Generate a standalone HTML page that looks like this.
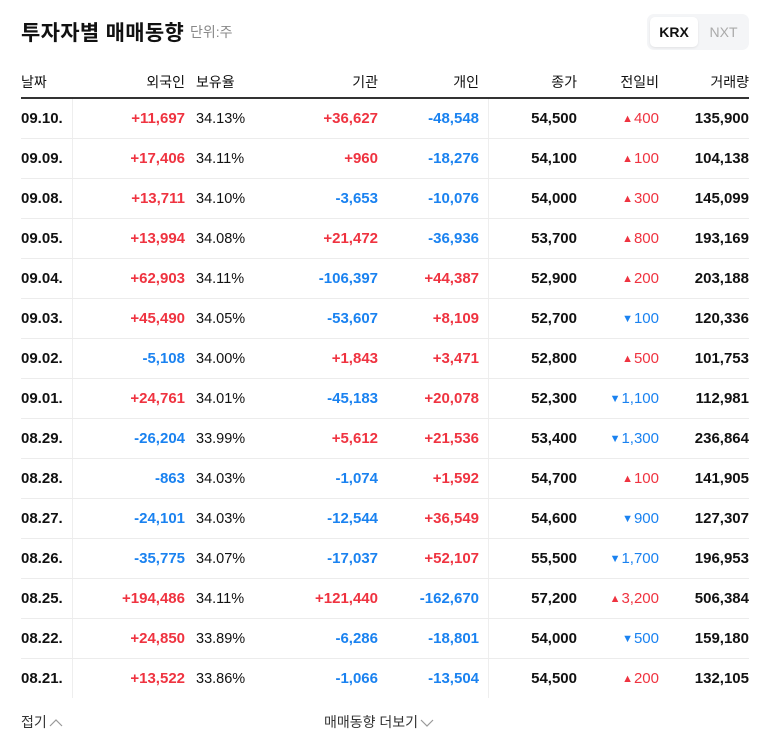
<!DOCTYPE html>
<html><head><meta charset="utf-8"><style>
*{margin:0;padding:0;box-sizing:border-box}
body{width:768px;height:749px;background:#fff;font-family:"Liberation Sans","Noto Sans CJK KR",sans-serif;color:#111;position:relative;overflow:hidden}
h1{position:absolute;left:21px;top:17px;font-size:21px;font-weight:bold;letter-spacing:0.3px}
.unit{position:absolute;left:190px;top:22px;font-size:14px;color:#888}
.tog{position:absolute;left:647px;top:14px;width:102px;height:36px;background:#f4f5f7;border-radius:7px}
.tog .k{position:absolute;left:3px;top:3px;width:48px;height:30px;background:#fff;border-radius:5px;box-shadow:0 1px 2px rgba(0,0,0,.08);font-size:14px;font-weight:bold;text-align:center;line-height:30px}
.tog .n{position:absolute;left:54px;top:3px;width:45px;height:30px;font-size:14px;color:#aaa;text-align:center;line-height:30px}
.hd{position:absolute;top:72px;font-size:14px;color:#111}
.thick{position:absolute;left:21px;top:97px;width:728px;height:2px;background:#333}
.vl{position:absolute;top:99px;width:1px;height:599px;background:#eee}
.row{position:absolute;left:21px;width:728px;height:40px;border-bottom:1px solid #ececec}
.row span{position:absolute;top:11px;font-size:15px;font-weight:bold;white-space:nowrap}
.row .d{left:0}
.row .p{left:175px;font-weight:normal;font-size:14.5px;top:12px;line-height:17px}
.r{color:#ef3340}.b{color:#1a82f0}
.row .c{font-weight:normal}
.row .tri{position:relative;top:-1px;font-size:11px;margin-right:1px;font-weight:normal}
.ft{position:absolute;top:712px;font-size:14px;color:#333}
.ft svg{vertical-align:middle;margin-left:2px}
</style></head><body>
<h1>투자자별 매매동향</h1><div class="unit">단위:주</div>
<div class="tog"><div class="k">KRX</div><div class="n">NXT</div></div>
<div class="hd" style="left:21px">날짜</div>
<div class="hd" style="right:583px">외국인</div>
<div class="hd" style="left:196px">보유율</div>
<div class="hd" style="right:390px">기관</div>
<div class="hd" style="right:289px">개인</div>
<div class="hd" style="right:191px">종가</div>
<div class="hd" style="right:109px">전일비</div>
<div class="hd" style="right:19px">거래량</div>
<div class="thick"></div>
<div class="vl" style="left:72px"></div>
<div class="vl" style="left:488px"></div>

<div class="row" style="top:99px"><span class="d">09.10.</span><span class="r" style="right:564px">+11,697</span><span class="p">34.13%</span><span class="r" style="right:371px">+36,627</span><span class="b" style="right:270px">-48,548</span><span style="right:172px">54,500</span><span class="c r" style="right:90px"><span class="tri">▲</span>400</span><span style="right:0">135,900</span></div>
<div class="row" style="top:139px"><span class="d">09.09.</span><span class="r" style="right:564px">+17,406</span><span class="p">34.11%</span><span class="r" style="right:371px">+960</span><span class="b" style="right:270px">-18,276</span><span style="right:172px">54,100</span><span class="c r" style="right:90px"><span class="tri">▲</span>100</span><span style="right:0">104,138</span></div>
<div class="row" style="top:179px"><span class="d">09.08.</span><span class="r" style="right:564px">+13,711</span><span class="p">34.10%</span><span class="b" style="right:371px">-3,653</span><span class="b" style="right:270px">-10,076</span><span style="right:172px">54,000</span><span class="c r" style="right:90px"><span class="tri">▲</span>300</span><span style="right:0">145,099</span></div>
<div class="row" style="top:219px"><span class="d">09.05.</span><span class="r" style="right:564px">+13,994</span><span class="p">34.08%</span><span class="r" style="right:371px">+21,472</span><span class="b" style="right:270px">-36,936</span><span style="right:172px">53,700</span><span class="c r" style="right:90px"><span class="tri">▲</span>800</span><span style="right:0">193,169</span></div>
<div class="row" style="top:259px"><span class="d">09.04.</span><span class="r" style="right:564px">+62,903</span><span class="p">34.11%</span><span class="b" style="right:371px">-106,397</span><span class="r" style="right:270px">+44,387</span><span style="right:172px">52,900</span><span class="c r" style="right:90px"><span class="tri">▲</span>200</span><span style="right:0">203,188</span></div>
<div class="row" style="top:299px"><span class="d">09.03.</span><span class="r" style="right:564px">+45,490</span><span class="p">34.05%</span><span class="b" style="right:371px">-53,607</span><span class="r" style="right:270px">+8,109</span><span style="right:172px">52,700</span><span class="c b" style="right:90px"><span class="tri">▼</span>100</span><span style="right:0">120,336</span></div>
<div class="row" style="top:339px"><span class="d">09.02.</span><span class="b" style="right:564px">-5,108</span><span class="p">34.00%</span><span class="r" style="right:371px">+1,843</span><span class="r" style="right:270px">+3,471</span><span style="right:172px">52,800</span><span class="c r" style="right:90px"><span class="tri">▲</span>500</span><span style="right:0">101,753</span></div>
<div class="row" style="top:379px"><span class="d">09.01.</span><span class="r" style="right:564px">+24,761</span><span class="p">34.01%</span><span class="b" style="right:371px">-45,183</span><span class="r" style="right:270px">+20,078</span><span style="right:172px">52,300</span><span class="c b" style="right:90px"><span class="tri">▼</span>1,100</span><span style="right:0">112,981</span></div>
<div class="row" style="top:419px"><span class="d">08.29.</span><span class="b" style="right:564px">-26,204</span><span class="p">33.99%</span><span class="r" style="right:371px">+5,612</span><span class="r" style="right:270px">+21,536</span><span style="right:172px">53,400</span><span class="c b" style="right:90px"><span class="tri">▼</span>1,300</span><span style="right:0">236,864</span></div>
<div class="row" style="top:459px"><span class="d">08.28.</span><span class="b" style="right:564px">-863</span><span class="p">34.03%</span><span class="b" style="right:371px">-1,074</span><span class="r" style="right:270px">+1,592</span><span style="right:172px">54,700</span><span class="c r" style="right:90px"><span class="tri">▲</span>100</span><span style="right:0">141,905</span></div>
<div class="row" style="top:499px"><span class="d">08.27.</span><span class="b" style="right:564px">-24,101</span><span class="p">34.03%</span><span class="b" style="right:371px">-12,544</span><span class="r" style="right:270px">+36,549</span><span style="right:172px">54,600</span><span class="c b" style="right:90px"><span class="tri">▼</span>900</span><span style="right:0">127,307</span></div>
<div class="row" style="top:539px"><span class="d">08.26.</span><span class="b" style="right:564px">-35,775</span><span class="p">34.07%</span><span class="b" style="right:371px">-17,037</span><span class="r" style="right:270px">+52,107</span><span style="right:172px">55,500</span><span class="c b" style="right:90px"><span class="tri">▼</span>1,700</span><span style="right:0">196,953</span></div>
<div class="row" style="top:579px"><span class="d">08.25.</span><span class="r" style="right:564px">+194,486</span><span class="p">34.11%</span><span class="r" style="right:371px">+121,440</span><span class="b" style="right:270px">-162,670</span><span style="right:172px">57,200</span><span class="c r" style="right:90px"><span class="tri">▲</span>3,200</span><span style="right:0">506,384</span></div>
<div class="row" style="top:619px"><span class="d">08.22.</span><span class="r" style="right:564px">+24,850</span><span class="p">33.89%</span><span class="b" style="right:371px">-6,286</span><span class="b" style="right:270px">-18,801</span><span style="right:172px">54,000</span><span class="c b" style="right:90px"><span class="tri">▼</span>500</span><span style="right:0">159,180</span></div>
<div class="row" style="top:659px;border-bottom:none"><span class="d">08.21.</span><span class="r" style="right:564px">+13,522</span><span class="p">33.86%</span><span class="b" style="right:371px">-1,066</span><span class="b" style="right:270px">-13,504</span><span style="right:172px">54,500</span><span class="c r" style="right:90px"><span class="tri">▲</span>200</span><span style="right:0">132,105</span></div>

<div class="ft" style="left:21px">접기<svg width="14" height="10" viewBox="0 0 14 10"><path d="M1 8 L7 2 L13 8" fill="none" stroke="#999" stroke-width="1.2"/></svg></div>
<div class="ft" style="left:324px">매매동향 더보기<svg width="14" height="10" viewBox="0 0 14 10"><path d="M1 2 L7 8 L13 2" fill="none" stroke="#999" stroke-width="1.2"/></svg></div>
</body></html>
